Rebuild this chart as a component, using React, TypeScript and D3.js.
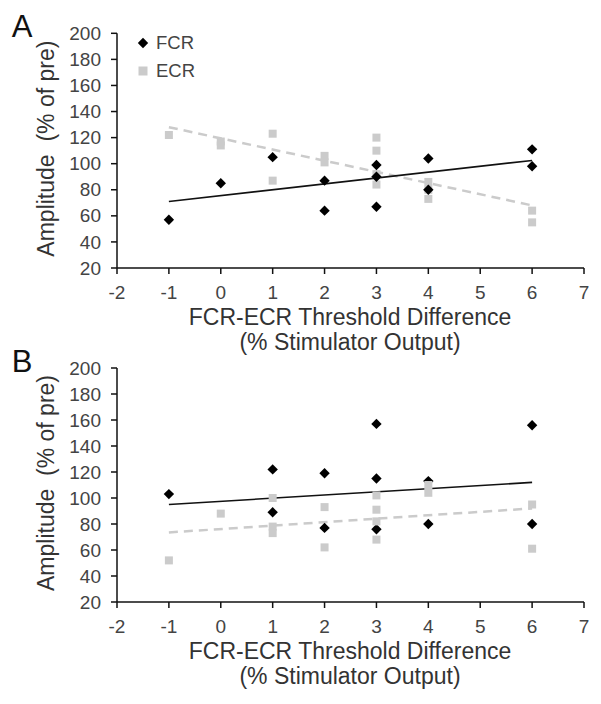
import React from "react";
import * as d3 from "d3";

// ---- data ----
const xTicks = [-2, -1, 0, 1, 2, 3, 4, 5, 6, 7];
const yTicks = [20, 40, 60, 80, 100, 120, 140, 160, 180, 200];

const fcrA_x = [-1, 0, 1, 2, 2, 3, 3, 3, 4, 4, 6, 6];
const fcrA_y = [57, 85, 105, 87, 64, 99, 90, 67, 104, 80, 111, 98];
const ecrA_x = [-1, 0, 0, 1, 1, 2, 2, 3, 3, 3, 3, 4, 4, 4, 6, 6];
const ecrA_y = [122, 117, 114, 123, 87, 106, 101, 120, 110, 92, 84, 86, 80, 73, 64, 55];
const trendA_x = [-1, 6];
const trendA_fcr = [71, 102.5];
const trendA_ecr = [128, 68];

const fcrB_x = [-1, 1, 1, 2, 2, 3, 3, 3, 4, 4, 6, 6];
const fcrB_y = [103, 122, 89, 119, 77, 157, 115, 76, 113, 80, 156, 80];
const ecrB_x = [-1, 0, 1, 1, 1, 2, 2, 3, 3, 3, 3, 4, 4, 6, 6];
const ecrB_y = [52, 88, 100, 78, 73, 93, 62, 102, 91, 82, 68, 110, 104, 95, 61];
const trendB_x = [-1, 6];
const trendB_fcr = [95, 112];
const trendB_ecr = [73.5, 92];

const panelLabels = ["A", "B"];
const seriesNames = ["FCR", "ECR"];
const xTitle1 = "FCR-ECR Threshold Difference";
const xTitle2 = "(% Stimulator Output)";
const yTitle = "Amplitude  (% of pre)";

const FONT = "'Liberation Sans', Arial, sans-serif";
const GRAY = "#cbcbcb";

function diamond(cx: number, cy: number, r: number) {
  return `M${cx},${cy - r}L${cx + r},${cy}L${cx},${cy + r}L${cx - r},${cy}Z`;
}

type PanelProps = {
  top: number;
  bottom: number;
  label: string;
  fx: number[]; fy: number[];
  ex: number[]; ey: number[];
  tx: number[]; tf: number[]; te: number[];
  ecrOnTop: boolean;
  legend: boolean;
};

function Panel(p: PanelProps) {
  const x = d3.scaleLinear().domain([-2, 7]).range([117, 584]);
  const y = d3.scaleLinear().domain([20, 200]).range([p.bottom, p.top]);
  const line = d3.line<[number, number]>().x(d => x(d[0])).y(d => y(d[1]));
  const fcrLine = line(p.tx.map((v, i) => [v, p.tf[i]] as [number, number])) || "";
  const ecrLine = line(p.tx.map((v, i) => [v, p.te[i]] as [number, number])) || "";
  const sq = 8;
  const diamonds = (
    <g>
      {p.fx.map((v, i) => (
        <path key={"f" + i} d={diamond(x(v), y(p.fy[i]), 5.2)} fill="#000" />
      ))}
    </g>
  );
  const squares = (
    <g>
      {p.ex.map((v, i) => (
        <rect key={"e" + i} x={x(v) - sq / 2} y={y(p.ey[i]) - sq / 2} width={sq} height={sq} fill={GRAY} />
      ))}
    </g>
  );
  const midY = (p.top + p.bottom) / 2 - 2;
  return (
    <g>
      <text x={22} y={p.top + 4} fontFamily={FONT} fontSize={31} fill="#111" textAnchor="middle">{p.label}</text>
      {/* y title */}
      <text transform={`translate(54,${midY}) rotate(-90)`} fontFamily={FONT} fontSize={23} fill="#333" textAnchor="middle" style={{ whiteSpace: "pre" }}>{yTitle}</text>
      {/* axes */}
      <line x1={x(-2)} x2={x(7)} y1={y(20)} y2={y(20)} stroke="#111" strokeWidth={1.5} />
      <line x1={x(-2)} x2={x(-2)} y1={y(20)} y2={y(200)} stroke="#111" strokeWidth={1.5} />
      {yTicks.map(t => (
        <g key={"y" + t}>
          <line x1={x(-2) - 6} x2={x(-2)} y1={y(t)} y2={y(t)} stroke="#111" strokeWidth={1.5} />
          <text x={101} y={y(t)} dy="0.35em" fontFamily={FONT} fontSize={19} fill="#444" textAnchor="end">{t}</text>
        </g>
      ))}
      {xTicks.map(t => (
        <g key={"x" + t}>
          <line x1={x(t)} x2={x(t)} y1={y(20)} y2={y(20) + 6} stroke="#111" strokeWidth={1.5} />
          <text x={x(t)} y={y(20) + 24} dy="0.35em" fontFamily={FONT} fontSize={19} fill="#444" textAnchor="middle">{t}</text>
        </g>
      ))}
      <text x={350} y={y(20) + 49} dy="0.35em" fontFamily={FONT} fontSize={23} fill="#333" textAnchor="middle">{xTitle1}</text>
      <text x={350} y={y(20) + 74} dy="0.35em" fontFamily={FONT} fontSize={23} fill="#333" textAnchor="middle">{xTitle2}</text>
      {/* trend lines */}
      <path d={ecrLine} stroke={GRAY} strokeWidth={2.5} strokeDasharray="9,6" fill="none" />
      <path d={fcrLine} stroke="#111" strokeWidth={1.6} fill="none" />
      {p.ecrOnTop ? <g>{diamonds}{squares}</g> : <g>{squares}{diamonds}</g>}
      {p.legend && (
        <g>
          <path d={diamond(143, 43, 5.2)} fill="#000" />
          <text x={156} y={43} dy="0.35em" fontFamily={FONT} fontSize={18.5} fill="#444">{seriesNames[0]}</text>
          <rect x={143 - 4.5} y={71 - 4.5} width={9} height={9} fill={GRAY} />
          <text x={156} y={71} dy="0.35em" fontFamily={FONT} fontSize={18.5} fill="#444">{seriesNames[1]}</text>
        </g>
      )}
    </g>
  );
}

export default function App() {
  return (
    <svg width={601} height={704} style={{ position: "absolute", left: 0, top: 0, background: "#fff" }}>
      <rect width={601} height={704} fill="#fff" />
      <Panel top={33.3} bottom={268} label={panelLabels[0]}
        fx={fcrA_x} fy={fcrA_y} ex={ecrA_x} ey={ecrA_y}
        tx={trendA_x} tf={trendA_fcr} te={trendA_ecr} ecrOnTop={false} legend={true} />
      <Panel top={368} bottom={602} label={panelLabels[1]}
        fx={fcrB_x} fy={fcrB_y} ex={ecrB_x} ey={ecrB_y}
        tx={trendB_x} tf={trendB_fcr} te={trendB_ecr} ecrOnTop={true} legend={false} />
    </svg>
  );
}
